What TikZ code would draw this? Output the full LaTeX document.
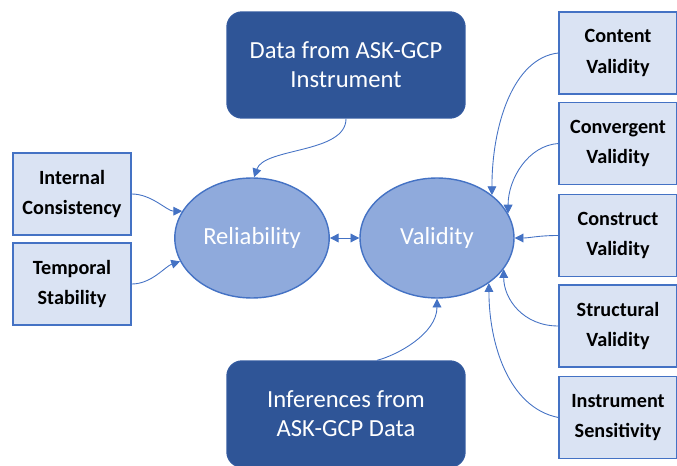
\documentclass[tikz,border=0pt]{standalone}
\usepackage{fontspec}
\setmainfont{Carlito}
\usetikzlibrary{shapes.geometric,arrows.meta}
\definecolor{darkblue}{HTML}{2F5597}
\definecolor{midblue}{HTML}{8FAADC}
\definecolor{lineblue}{HTML}{4472C4}
\definecolor{paleblue}{HTML}{DAE3F3}
\begin{document}
\begin{tikzpicture}[x=0.02cm,y=-0.02cm,
        facet/.style={draw=lineblue,line width=0.8pt,fill=paleblue,minimum width=2.36cm,
            minimum height=1.64cm,align=center,font=\fontsize{11.5}{17.6}\selectfont\bfseries},
        source/.style={draw=darkblue!85!lineblue,line width=0.8pt,fill=darkblue,rounded corners=0.3cm,
            minimum width=4.76cm,minimum height=2.12cm,align=center,text=white,
            font=\fontsize{14}{16.5}\selectfont},
        core/.style={ellipse,draw=lineblue,line width=0.8pt,fill=midblue,minimum width=3.08cm,
            minimum height=2.4cm,text=white,font=\fontsize{14}{16.5}\selectfont},
        link/.style={lineblue,line width=0.5pt,-{Triangle[length=5pt,width=5pt]}}]

        \useasboundingbox (0,0) rectangle (677,466);

        \node[core] (rel) at (252,238) {Reliability};
        \node[core] (val) at (437,238) {Validity};
        \node[source] (dat) at (346,65) {Data from ASK-GCP\\Instrument};
        \node[source] (inf) at (346,414) {Inferences from\\ASK-GCP Data};

        \node[facet] (ic) at (72,194) {Internal\\Consistency};
        \node[facet] (ts) at (72,284) {Temporal\\Stability};

        % right column
        \foreach \nm/\y/\txt in {cnt/53/{Content\\Validity},cvg/143.5/{Convergent\\Validity},
            cst/235.5/{Construct\\Validity},str/326/{Structural\\Validity},ins/417.5/{Instrument\\Sensitivity}}
            \node[facet] (\nm) at (618,\y) {\txt};

        \draw[link] (ic.east) .. controls +(20,0) and +(-15,0) .. (rel.159);
        \draw[link] (ts.east) .. controls +(20,0) and +(-15,5) .. (rel.198);
        \draw[link] (dat.south) .. controls +(0,35) and +(10,-30) .. (rel.88);
        \draw[link] (inf.60) .. controls +(20,-5) and +(0,35) .. (val.south);
        \draw[link,{Triangle[length=5pt,width=5pt]}-{Triangle[length=5pt,width=5pt]}] (rel.east) -- (val.west);

        \draw[link] (cnt.west) .. controls +(-45,5) and +(0,-70) .. (val.38);
        \draw[link] (cvg.west) .. controls +(-30,2) and +(0,-35) .. (val.19);
        \draw[link] (cst.west) .. controls +(-20,0) and +(15,0) .. (val.east);
        \draw[link] (str.west) .. controls +(-35,0) and +(0,30) .. (val.-25);
        \draw[link] (ins.west) .. controls +(-50,-10) and +(0,60) .. (val.-41);
    \end{tikzpicture}
\end{document}
